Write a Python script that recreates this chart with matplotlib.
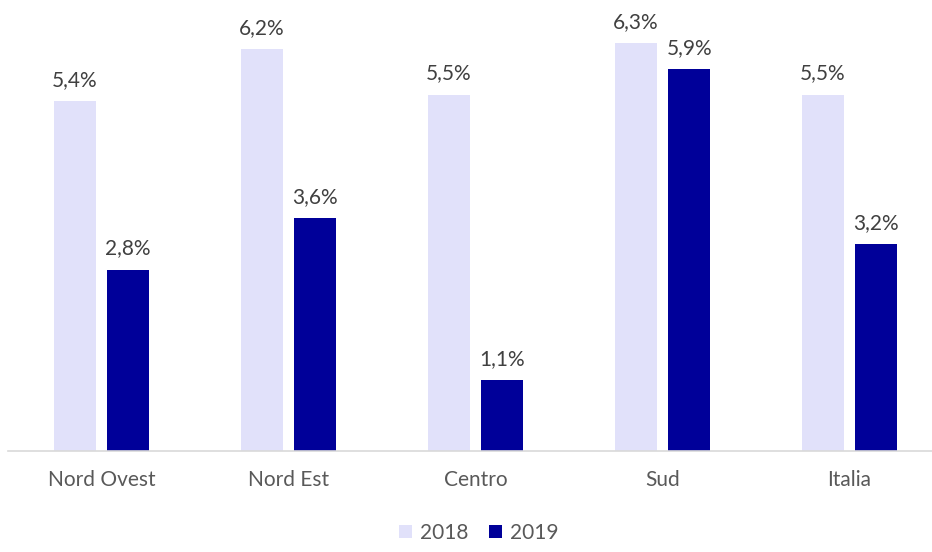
import matplotlib.pyplot as plt
import numpy as np

# Data
regions = ['Nord Ovest', 'Nord Est', 'Centro', 'Sud', 'Italia']
val_2018 = [5.4, 6.2, 5.5, 6.3, 5.5]
val_2019 = [2.8, 3.6, 1.1, 5.9, 3.2]

plt.rcParams['font.family'] = ['Lato', 'DejaVu Sans']

fig = plt.figure(figsize=(9.32, 5.52), dpi=100)
ax = fig.add_axes([8 / 932, (552 - 451) / 552, 935 / 932, 451 / 552])

x = np.arange(len(regions))
w = 0.225
off = 0.143
b1 = ax.bar(x - off, val_2018, w, color='#E1E1FA', label='2018')
b2 = ax.bar(x + off, val_2019, w, color='#000099', label='2019')

for bars in (b1, b2):
    for r in bars:
        h = r.get_height()
        ax.text(r.get_x() + r.get_width() / 2, h + 0.17, f'{h:.1f}%'.replace('.', ','),
                ha='center', va='bottom', fontsize=15, color='#404040')

ax.set_xlim(-0.5, 4.5)
ax.set_ylim(0, 451 / 64.8)
ax.set_yticks([])
ax.set_xticks(x)
ax.set_xticklabels(regions, fontsize=15, color='#595959')
ax.tick_params(axis='x', length=0, pad=14)
for s in ['top', 'right', 'left']:
    ax.spines[s].set_visible(False)
ax.spines['bottom'].set_color('#D9D9D9')
ax.spines['bottom'].set_linewidth(1.2)

fig.legend(loc='center', bbox_to_anchor=(479 / 932, 1 - 533 / 552), ncol=2, frameon=False,
           fontsize=15, labelcolor='#595959', handlelength=0.6, handleheight=0.6,
           handletextpad=0.4, columnspacing=1.0)

plt.savefig('out.png', dpi=100)
